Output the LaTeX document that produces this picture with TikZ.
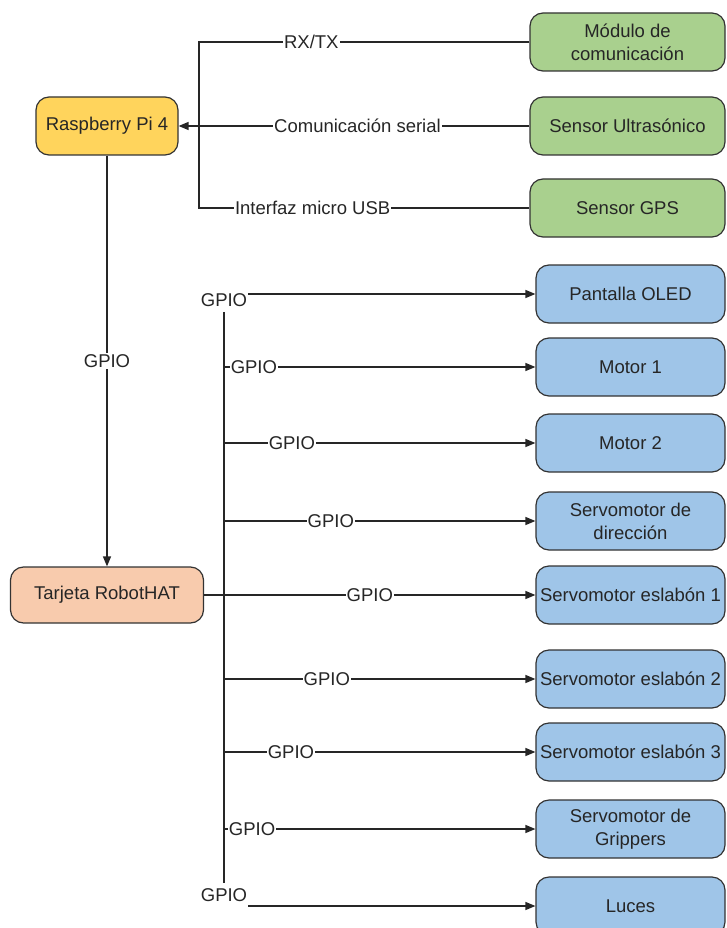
\documentclass[tikz,border=0pt]{standalone}
\usepackage{fontspec}
\setmainfont{Liberation Sans}
\usetikzlibrary{arrows.meta}
\tikzset{>={Triangle[length=10pt,width=8pt]}}

\definecolor{rpiyellow}{HTML}{FFD45C}
\definecolor{hatorange}{HTML}{F8CBAD}
\definecolor{sensgreen}{HTML}{A9D08E}
\definecolor{actblue}{HTML}{9FC5E8}

\tikzset{
  box/.style={draw=black!80, line width=1.2pt, rounded corners=13pt,
    minimum height=58pt, align=center, inner sep=3pt, text=black!85,
    font=\fontsize{18.5}{23}\selectfont},
  greenbox/.style={box, fill=sensgreen, minimum width=195pt},
  bluebox/.style={box, fill=actblue, minimum width=189pt},
  lbl/.style={fill=white, inner sep=1pt, text=black!85,
    font=\fontsize{18.5}{22}\selectfont},
  wire/.style={line width=1.4pt, draw=black!85}
}

\begin{document}
\begin{tikzpicture}[x=1pt,y=-1pt]
\useasboundingbox (0,0) rectangle (726,928);

% boards
\node[box, fill=rpiyellow, minimum width=142pt] (rpi) at (107,126) {Raspberry Pi 4};
\node[box, fill=hatorange, minimum width=193pt, minimum height=56pt] (hat) at (107,595) {Tarjeta RobotHAT};

% sensors
\node[greenbox] (com) at (627.5,42) {Módulo de\\comunicación};
\node[greenbox] (ultra) at (627.5,126) {Sensor Ultrasónico};
\node[greenbox] (gps) at (627.5,208) {Sensor GPS};

% actuators
\node[bluebox] (oled) at (630.5,294) {Pantalla OLED};
\node[bluebox] (mot1) at (630.5,367) {Motor 1};
\node[bluebox] (mot2) at (630.5,443) {Motor 2};
\node[bluebox] (dir) at (630.5,521) {Servomotor de\\dirección};
\node[bluebox] (esl1) at (630.5,595) {Servomotor eslabón 1};
\node[bluebox] (esl2) at (630.5,679) {Servomotor eslabón 2};
\node[bluebox] (esl3) at (630.5,752) {Servomotor eslabón 3};
\node[bluebox] (grip) at (630.5,829) {Servomotor de\\Grippers};
\node[bluebox] (luces) at (630.5,906) {Luces};

% sensor side
\coordinate (rbus) at (199,126);
\draw[wire] (com.west) -- node[lbl,pos=0.66]{RX/TX} (com.west -| rbus)
  -- (rbus |- gps.west) -- node[lbl,pos=0.344]{Interfaz micro USB} (gps.west);
\draw[wire,->] (ultra.west) -- node[lbl,pos=0.49]{Comunicación serial} (rpi.east);

\draw[wire,->] (rpi.south) -- node[lbl]{GPIO} (hat.north);

% GPIO bus of the RobotHAT
\node[lbl] (gtop) at (224,300) {GPIO};
\node[lbl] (gbot) at (224,895) {GPIO};
\draw[wire, shorten <=4pt, shorten >=4pt] (gtop.south) -- (gbot.north);
\draw[wire,->] (gtop.east |- oled.west) -- (oled.west);
\draw[wire,->] (gbot.east |- luces.west) -- (luces.west);
\draw[wire,->] (hat.east) -- node[lbl]{GPIO} (esl1.west);
\foreach \dst/\p in {mot1/0.096, mot2/0.218, dir/0.343, esl2/0.33, esl3/0.215, grip/0.09}
  \draw[wire,->] (gtop.south |- \dst.west) -- node[lbl,pos=\p]{GPIO} (\dst.west);

\end{tikzpicture}
\end{document}
